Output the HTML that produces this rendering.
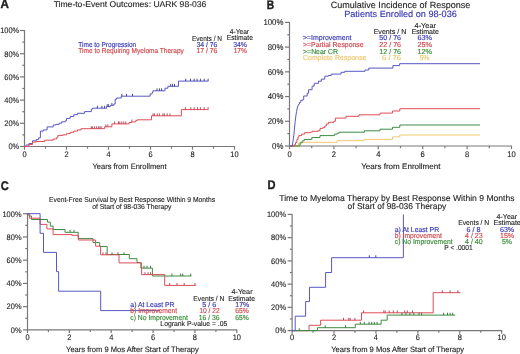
<!DOCTYPE html>
<html><head><meta charset="utf-8"><style>
html,body{margin:0;padding:0;background:#fff;}
body{width:520px;height:354px;overflow:hidden;}
svg{display:block;font-family:"Liberation Sans", sans-serif;text-rendering:geometricPrecision;}
</style></head><body>
<svg width="520" height="354" viewBox="0 0 520 354">
<defs><filter id="bl" x="0" y="0" width="100%" height="100%"><feGaussianBlur stdDeviation="0.4"/></filter></defs>
<rect width="520" height="354" fill="#fff"/>
<g filter="url(#bl)">
<rect width="520" height="354" fill="#fff"/>
<text x="0.50" y="8.30" font-size="12.5" fill="#1e1e1e" stroke="#1e1e1e" stroke-width="0.4" font-weight="bold" textLength="8.40" lengthAdjust="spacingAndGlyphs">A</text>
<text x="53.65" y="7.00" font-size="8.4" fill="#1e1e1e" stroke="#1e1e1e" stroke-width="0.12" font-weight="normal" textLength="152.70" lengthAdjust="spacingAndGlyphs">Time-to-Event Outcomes: UARK 98-036</text>
<line x1="24.50" y1="30.00" x2="24.50" y2="147.00" stroke="#787878" stroke-width="1.2"/>
<line x1="24.00" y1="146.50" x2="235.00" y2="146.50" stroke="#787878" stroke-width="1.2"/>
<line x1="20.00" y1="146.50" x2="24.50" y2="146.50" stroke="#787878" stroke-width="1.2"/>
<text x="8.45" y="149.30" font-size="8.0" fill="#1e1e1e" stroke="#1e1e1e" stroke-width="0.12" textLength="10.75" lengthAdjust="spacingAndGlyphs">0%</text>
<line x1="22.30" y1="134.90" x2="24.50" y2="134.90" stroke="#787878" stroke-width="1.2"/>
<line x1="20.00" y1="123.30" x2="24.50" y2="123.30" stroke="#787878" stroke-width="1.2"/>
<text x="4.31" y="126.10" font-size="8.0" fill="#1e1e1e" stroke="#1e1e1e" stroke-width="0.12" textLength="14.89" lengthAdjust="spacingAndGlyphs">20%</text>
<line x1="22.30" y1="111.70" x2="24.50" y2="111.70" stroke="#787878" stroke-width="1.2"/>
<line x1="20.00" y1="100.10" x2="24.50" y2="100.10" stroke="#787878" stroke-width="1.2"/>
<text x="4.31" y="102.90" font-size="8.0" fill="#1e1e1e" stroke="#1e1e1e" stroke-width="0.12" textLength="14.89" lengthAdjust="spacingAndGlyphs">40%</text>
<line x1="22.30" y1="88.50" x2="24.50" y2="88.50" stroke="#787878" stroke-width="1.2"/>
<line x1="20.00" y1="76.90" x2="24.50" y2="76.90" stroke="#787878" stroke-width="1.2"/>
<text x="4.31" y="79.70" font-size="8.0" fill="#1e1e1e" stroke="#1e1e1e" stroke-width="0.12" textLength="14.89" lengthAdjust="spacingAndGlyphs">60%</text>
<line x1="22.30" y1="65.30" x2="24.50" y2="65.30" stroke="#787878" stroke-width="1.2"/>
<line x1="20.00" y1="53.70" x2="24.50" y2="53.70" stroke="#787878" stroke-width="1.2"/>
<text x="4.31" y="56.50" font-size="8.0" fill="#1e1e1e" stroke="#1e1e1e" stroke-width="0.12" textLength="14.89" lengthAdjust="spacingAndGlyphs">80%</text>
<line x1="22.30" y1="42.10" x2="24.50" y2="42.10" stroke="#787878" stroke-width="1.2"/>
<line x1="20.00" y1="30.50" x2="24.50" y2="30.50" stroke="#787878" stroke-width="1.2"/>
<text x="0.17" y="33.30" font-size="8.0" fill="#1e1e1e" stroke="#1e1e1e" stroke-width="0.12" textLength="19.03" lengthAdjust="spacingAndGlyphs">100%</text>
<line x1="24.50" y1="146.50" x2="24.50" y2="149.70" stroke="#787878" stroke-width="1.2"/>
<text x="22.43" y="156.70" font-size="8.0" fill="#1e1e1e" stroke="#1e1e1e" stroke-width="0.12" font-weight="normal" textLength="4.14" lengthAdjust="spacingAndGlyphs">0</text>
<line x1="45.50" y1="146.50" x2="45.50" y2="148.70" stroke="#787878" stroke-width="1.2"/>
<line x1="66.50" y1="146.50" x2="66.50" y2="149.70" stroke="#787878" stroke-width="1.2"/>
<text x="64.43" y="156.70" font-size="8.0" fill="#1e1e1e" stroke="#1e1e1e" stroke-width="0.12" font-weight="normal" textLength="4.14" lengthAdjust="spacingAndGlyphs">2</text>
<line x1="87.50" y1="146.50" x2="87.50" y2="148.70" stroke="#787878" stroke-width="1.2"/>
<line x1="108.50" y1="146.50" x2="108.50" y2="149.70" stroke="#787878" stroke-width="1.2"/>
<text x="106.43" y="156.70" font-size="8.0" fill="#1e1e1e" stroke="#1e1e1e" stroke-width="0.12" font-weight="normal" textLength="4.14" lengthAdjust="spacingAndGlyphs">4</text>
<line x1="129.50" y1="146.50" x2="129.50" y2="148.70" stroke="#787878" stroke-width="1.2"/>
<line x1="150.50" y1="146.50" x2="150.50" y2="149.70" stroke="#787878" stroke-width="1.2"/>
<text x="148.43" y="156.70" font-size="8.0" fill="#1e1e1e" stroke="#1e1e1e" stroke-width="0.12" font-weight="normal" textLength="4.14" lengthAdjust="spacingAndGlyphs">6</text>
<line x1="171.50" y1="146.50" x2="171.50" y2="148.70" stroke="#787878" stroke-width="1.2"/>
<line x1="192.50" y1="146.50" x2="192.50" y2="149.70" stroke="#787878" stroke-width="1.2"/>
<text x="190.43" y="156.70" font-size="8.0" fill="#1e1e1e" stroke="#1e1e1e" stroke-width="0.12" font-weight="normal" textLength="4.14" lengthAdjust="spacingAndGlyphs">8</text>
<line x1="213.50" y1="146.50" x2="213.50" y2="148.70" stroke="#787878" stroke-width="1.2"/>
<line x1="234.50" y1="146.50" x2="234.50" y2="149.70" stroke="#787878" stroke-width="1.2"/>
<text x="230.36" y="156.70" font-size="8.0" fill="#1e1e1e" stroke="#1e1e1e" stroke-width="0.12" font-weight="normal" textLength="8.28" lengthAdjust="spacingAndGlyphs">10</text>
<text x="92.45" y="169.20" font-size="7.8" fill="#1e1e1e" stroke="#1e1e1e" stroke-width="0.12" font-weight="normal" textLength="74.20" lengthAdjust="spacingAndGlyphs">Years from Enrollment</text>
<text x="78.35" y="47.30" font-size="7.2" fill="#3636b4" stroke="#3636b4" stroke-width="0.15" font-weight="normal" textLength="57.80" lengthAdjust="spacingAndGlyphs">Time to Progression</text>
<text x="78.35" y="53.30" font-size="7.2" fill="#d24448" stroke="#d24448" stroke-width="0.15" font-weight="normal" textLength="105.50" lengthAdjust="spacingAndGlyphs">Time to Requiring Myeloma Therapy</text>
<text x="192.05" y="40.50" font-size="7.2" fill="#1e1e1e" stroke="#1e1e1e" stroke-width="0.12" font-weight="normal" textLength="29.90" lengthAdjust="spacingAndGlyphs">Events / N</text>
<text x="196.45" y="47.10" font-size="7.2" fill="#3636b4" stroke="#3636b4" stroke-width="0.15" font-weight="normal" textLength="20.90" lengthAdjust="spacingAndGlyphs">34 / 76</text>
<text x="196.45" y="53.20" font-size="7.2" fill="#d24448" stroke="#d24448" stroke-width="0.15" font-weight="normal" textLength="20.90" lengthAdjust="spacingAndGlyphs">17 / 76</text>
<text x="229.75" y="34.10" font-size="7.2" fill="#1e1e1e" stroke="#1e1e1e" stroke-width="0.12" font-weight="normal" textLength="19.30" lengthAdjust="spacingAndGlyphs">4-Year</text>
<text x="226.75" y="40.30" font-size="7.2" fill="#1e1e1e" stroke="#1e1e1e" stroke-width="0.12" font-weight="normal" textLength="26.20" lengthAdjust="spacingAndGlyphs">Estimate</text>
<text x="233.25" y="47.10" font-size="7.2" fill="#3636b4" stroke="#3636b4" stroke-width="0.15" font-weight="normal" textLength="13.70" lengthAdjust="spacingAndGlyphs">34%</text>
<text x="233.65" y="53.20" font-size="7.2" fill="#d24448" stroke="#d24448" stroke-width="0.15" font-weight="normal" textLength="13.30" lengthAdjust="spacingAndGlyphs">17%</text>
<path d="M24.50 146.50H26.00V145.00H28.90V143.60H32.50V140.80H36.20V139.60H38.60V137.80H40.40V131.10H43.40V129.90H47.10V126.90H53.20V125.00H55.60V124.40H59.20V123.20H61.70V121.80H65.30V120.80H66.50V118.40H70.20V116.50H73.80V114.70H77.50V113.30H84.60V111.60H91.30V109.00H92.60V108.20H106.60V106.60H110.50V105.30H113.90V104.00H115.20V99.30H116.50V98.00H121.20V96.20H150.10V93.90H152.20V92.50H152.90V90.80H165.00V88.20H167.90V86.30H178.50V81.10H208.40" fill="none" stroke="#5858c4" stroke-width="1.0"/>
<path d="M24.50 146.50H28.90V144.50H32.50V142.10H36.20V141.50H44.70V140.20H53.20V139.00H56.80V137.20H58.00V135.40H62.90V134.80H66.50V133.60H70.20V132.30H73.80V131.10H77.50V129.90H81.10V128.70H104.60V126.80H111.90V123.90H129.10V122.50H131.80V121.90H135.80V120.50H137.10V119.80H151.50V115.80H181.40V109.60H208.40" fill="none" stroke="#e04c56" stroke-width="1.0"/>
<path d="M185.70 81.10v-2.40M190.50 81.10v-2.40M194.10 81.10v-2.40M197.00 81.10v-2.40M200.40 81.10v-2.40M204.20 81.10v-2.40M208.10 81.10v-2.40" fill="none" stroke="#34348c" stroke-width="0.9"/>
<path d="M170.70 86.30v-2.40M172.50 86.30v-2.40M174.50 86.30v-2.40" fill="none" stroke="#34348c" stroke-width="0.9"/>
<path d="M157.00 90.80v-2.40M159.50 90.80v-2.40M161.50 90.80v-2.40" fill="none" stroke="#34348c" stroke-width="0.9"/>
<path d="M97.30 108.20v-2.40M101.90 108.20v-2.40M104.60 108.20v-2.40" fill="none" stroke="#34348c" stroke-width="0.9"/>
<path d="M107.20 106.60v-2.40M108.60 106.60v-2.40" fill="none" stroke="#34348c" stroke-width="0.9"/>
<path d="M111.90 105.30v-2.40" fill="none" stroke="#34348c" stroke-width="0.9"/>
<path d="M121.80 96.20v-2.40M126.50 96.20v-2.40M132.50 96.20v-2.40" fill="none" stroke="#34348c" stroke-width="0.9"/>
<path d="M185.40 109.60v-2.40M190.80 109.60v-2.40M194.20 109.60v-2.40M197.50 109.60v-2.40M200.40 109.60v-2.40M204.20 109.60v-2.40M208.10 109.60v-2.40" fill="none" stroke="#a84050" stroke-width="0.9"/>
<path d="M153.00 115.80v-2.40M154.40 115.80v-2.40M157.20 115.80v-2.40M159.30 115.80v-2.40M162.90 115.80v-2.40M164.30 115.80v-2.40M167.20 115.80v-2.40M170.00 115.80v-2.40" fill="none" stroke="#a84050" stroke-width="0.9"/>
<path d="M114.50 123.90v-2.40M118.50 123.90v-2.40M119.80 123.90v-2.40M121.80 123.90v-2.40M123.80 123.90v-2.40M125.80 123.90v-2.40" fill="none" stroke="#a84050" stroke-width="0.9"/>
<path d="M105.90 126.80v-2.40M107.90 126.80v-2.40" fill="none" stroke="#a84050" stroke-width="0.9"/>
<path d="M91.30 128.70v-2.40M92.60 128.70v-2.40M94.60 128.70v-2.40M96.60 128.70v-2.40M98.60 128.70v-2.40M99.90 128.70v-2.40M101.20 128.70v-2.40" fill="none" stroke="#a84050" stroke-width="0.9"/>
<path d="M131.80 121.90v-2.40" fill="none" stroke="#a84050" stroke-width="0.9"/>
<text x="266.80" y="8.60" font-size="12.5" fill="#1e1e1e" stroke="#1e1e1e" stroke-width="0.4" font-weight="bold" textLength="7.40" lengthAdjust="spacingAndGlyphs">B</text>
<text x="330.65" y="8.00" font-size="9.1" fill="#1e1e1e" stroke="#1e1e1e" stroke-width="0.12" font-weight="normal" textLength="139.70" lengthAdjust="spacingAndGlyphs">Cumulative Incidence of Response</text>
<text x="344.15" y="16.50" font-size="9.1" fill="#3636b4" stroke="#3636b4" stroke-width="0.15" font-weight="normal" textLength="112.70" lengthAdjust="spacingAndGlyphs">Patients Enrolled on 98-036</text>
<line x1="289.50" y1="21.90" x2="289.50" y2="146.50" stroke="#787878" stroke-width="1.2"/>
<line x1="289.00" y1="146.00" x2="512.00" y2="146.00" stroke="#787878" stroke-width="1.2"/>
<line x1="285.00" y1="146.00" x2="289.50" y2="146.00" stroke="#787878" stroke-width="1.2"/>
<text x="272.11" y="148.80" font-size="8.4" fill="#1e1e1e" stroke="#1e1e1e" stroke-width="0.12" textLength="11.29" lengthAdjust="spacingAndGlyphs">0%</text>
<line x1="287.30" y1="133.64" x2="289.50" y2="133.64" stroke="#787878" stroke-width="1.2"/>
<line x1="285.00" y1="121.28" x2="289.50" y2="121.28" stroke="#787878" stroke-width="1.2"/>
<text x="267.76" y="124.08" font-size="8.4" fill="#1e1e1e" stroke="#1e1e1e" stroke-width="0.12" textLength="15.64" lengthAdjust="spacingAndGlyphs">20%</text>
<line x1="287.30" y1="108.92" x2="289.50" y2="108.92" stroke="#787878" stroke-width="1.2"/>
<line x1="285.00" y1="96.56" x2="289.50" y2="96.56" stroke="#787878" stroke-width="1.2"/>
<text x="267.76" y="99.36" font-size="8.4" fill="#1e1e1e" stroke="#1e1e1e" stroke-width="0.12" textLength="15.64" lengthAdjust="spacingAndGlyphs">40%</text>
<line x1="287.30" y1="84.20" x2="289.50" y2="84.20" stroke="#787878" stroke-width="1.2"/>
<line x1="285.00" y1="71.84" x2="289.50" y2="71.84" stroke="#787878" stroke-width="1.2"/>
<text x="267.76" y="74.64" font-size="8.4" fill="#1e1e1e" stroke="#1e1e1e" stroke-width="0.12" textLength="15.64" lengthAdjust="spacingAndGlyphs">60%</text>
<line x1="287.30" y1="59.48" x2="289.50" y2="59.48" stroke="#787878" stroke-width="1.2"/>
<line x1="285.00" y1="47.12" x2="289.50" y2="47.12" stroke="#787878" stroke-width="1.2"/>
<text x="267.76" y="49.92" font-size="8.4" fill="#1e1e1e" stroke="#1e1e1e" stroke-width="0.12" textLength="15.64" lengthAdjust="spacingAndGlyphs">80%</text>
<line x1="287.30" y1="34.76" x2="289.50" y2="34.76" stroke="#787878" stroke-width="1.2"/>
<line x1="285.00" y1="22.40" x2="289.50" y2="22.40" stroke="#787878" stroke-width="1.2"/>
<text x="263.42" y="25.20" font-size="8.4" fill="#1e1e1e" stroke="#1e1e1e" stroke-width="0.12" textLength="19.98" lengthAdjust="spacingAndGlyphs">100%</text>
<line x1="289.50" y1="146.00" x2="289.50" y2="149.20" stroke="#787878" stroke-width="1.2"/>
<text x="287.38" y="156.70" font-size="8.2" fill="#1e1e1e" stroke="#1e1e1e" stroke-width="0.12" font-weight="normal" textLength="4.24" lengthAdjust="spacingAndGlyphs">0</text>
<line x1="311.70" y1="146.00" x2="311.70" y2="148.20" stroke="#787878" stroke-width="1.2"/>
<line x1="333.90" y1="146.00" x2="333.90" y2="149.20" stroke="#787878" stroke-width="1.2"/>
<text x="331.78" y="156.70" font-size="8.2" fill="#1e1e1e" stroke="#1e1e1e" stroke-width="0.12" font-weight="normal" textLength="4.24" lengthAdjust="spacingAndGlyphs">2</text>
<line x1="356.10" y1="146.00" x2="356.10" y2="148.20" stroke="#787878" stroke-width="1.2"/>
<line x1="378.30" y1="146.00" x2="378.30" y2="149.20" stroke="#787878" stroke-width="1.2"/>
<text x="376.18" y="156.70" font-size="8.2" fill="#1e1e1e" stroke="#1e1e1e" stroke-width="0.12" font-weight="normal" textLength="4.24" lengthAdjust="spacingAndGlyphs">4</text>
<line x1="400.50" y1="146.00" x2="400.50" y2="148.20" stroke="#787878" stroke-width="1.2"/>
<line x1="422.70" y1="146.00" x2="422.70" y2="149.20" stroke="#787878" stroke-width="1.2"/>
<text x="420.58" y="156.70" font-size="8.2" fill="#1e1e1e" stroke="#1e1e1e" stroke-width="0.12" font-weight="normal" textLength="4.24" lengthAdjust="spacingAndGlyphs">6</text>
<line x1="444.90" y1="146.00" x2="444.90" y2="148.20" stroke="#787878" stroke-width="1.2"/>
<line x1="467.10" y1="146.00" x2="467.10" y2="149.20" stroke="#787878" stroke-width="1.2"/>
<text x="464.98" y="156.70" font-size="8.2" fill="#1e1e1e" stroke="#1e1e1e" stroke-width="0.12" font-weight="normal" textLength="4.24" lengthAdjust="spacingAndGlyphs">8</text>
<line x1="489.30" y1="146.00" x2="489.30" y2="148.20" stroke="#787878" stroke-width="1.2"/>
<line x1="511.50" y1="146.00" x2="511.50" y2="149.20" stroke="#787878" stroke-width="1.2"/>
<text x="507.26" y="156.70" font-size="8.2" fill="#1e1e1e" stroke="#1e1e1e" stroke-width="0.12" font-weight="normal" textLength="8.48" lengthAdjust="spacingAndGlyphs">10</text>
<text x="361.15" y="169.10" font-size="7.9" fill="#1e1e1e" stroke="#1e1e1e" stroke-width="0.12" font-weight="normal" textLength="79.40" lengthAdjust="spacingAndGlyphs">Years from Enrollment</text>
<text x="303.05" y="40.20" font-size="7.2" fill="#3636b4" stroke="#3636b4" stroke-width="0.15" font-weight="normal" textLength="48.40" lengthAdjust="spacingAndGlyphs">&gt;=Improvement</text>
<text x="303.05" y="46.90" font-size="7.2" fill="#d24448" stroke="#d24448" stroke-width="0.15" font-weight="normal" textLength="60.60" lengthAdjust="spacingAndGlyphs">&gt;=Partial Response</text>
<text x="303.05" y="53.60" font-size="7.2" fill="#348a34" stroke="#348a34" stroke-width="0.15" font-weight="normal" textLength="35.00" lengthAdjust="spacingAndGlyphs">&gt;=Near CR</text>
<text x="303.05" y="60.30" font-size="7.2" fill="#eac870" stroke="#eac870" stroke-width="0.15" font-weight="normal" textLength="63.30" lengthAdjust="spacingAndGlyphs">Complete Response</text>
<text x="414.55" y="27.60" font-size="7.2" fill="#1e1e1e" stroke="#1e1e1e" stroke-width="0.12" font-weight="normal" textLength="21.40" lengthAdjust="spacingAndGlyphs">4-Year</text>
<text x="373.65" y="33.50" font-size="7.2" fill="#1e1e1e" stroke="#1e1e1e" stroke-width="0.12" font-weight="normal" textLength="32.70" lengthAdjust="spacingAndGlyphs">Events / N</text>
<text x="411.65" y="33.50" font-size="7.2" fill="#1e1e1e" stroke="#1e1e1e" stroke-width="0.12" font-weight="normal" textLength="27.20" lengthAdjust="spacingAndGlyphs">Estimate</text>
<text x="379.35" y="40.20" font-size="7.2" fill="#3636b4" stroke="#3636b4" stroke-width="0.15" font-weight="normal" textLength="21.70" lengthAdjust="spacingAndGlyphs">50 / 76</text>
<text x="379.35" y="46.90" font-size="7.2" fill="#d24448" stroke="#d24448" stroke-width="0.15" font-weight="normal" textLength="21.70" lengthAdjust="spacingAndGlyphs">22 / 76</text>
<text x="379.35" y="53.60" font-size="7.2" fill="#348a34" stroke="#348a34" stroke-width="0.15" font-weight="normal" textLength="21.70" lengthAdjust="spacingAndGlyphs">12 / 76</text>
<text x="382.05" y="60.30" font-size="7.2" fill="#eac870" stroke="#eac870" stroke-width="0.15" font-weight="normal" textLength="19.00" lengthAdjust="spacingAndGlyphs">6 / 76</text>
<text x="417.45" y="40.20" font-size="7.2" fill="#3636b4" stroke="#3636b4" stroke-width="0.15" font-weight="normal" textLength="14.60" lengthAdjust="spacingAndGlyphs">63%</text>
<text x="417.45" y="46.90" font-size="7.2" fill="#d24448" stroke="#d24448" stroke-width="0.15" font-weight="normal" textLength="14.60" lengthAdjust="spacingAndGlyphs">25%</text>
<text x="417.45" y="53.60" font-size="7.2" fill="#348a34" stroke="#348a34" stroke-width="0.15" font-weight="normal" textLength="14.60" lengthAdjust="spacingAndGlyphs">12%</text>
<text x="419.45" y="60.30" font-size="7.2" fill="#eac870" stroke="#eac870" stroke-width="0.15" font-weight="normal" textLength="10.10" lengthAdjust="spacingAndGlyphs">5%</text>
<path d="M289.50 146.00H297.90V146.00H298.50V143.30H299.80V142.30H337.30V140.70H364.50V139.40H392.50V136.90H399.80V135.00H480.00" fill="none" stroke="#f0ca6a" stroke-width="1.0"/>
<path d="M289.50 146.00H299.50V146.00H299.80V144.50H300.30V142.80H302.20V140.90H304.10V139.40H311.80V137.50H320.00V135.60H334.40V134.10H337.30V133.20H339.20V132.20H364.50V130.80H380.00V129.20H392.50V127.30H399.80V125.00H480.00" fill="none" stroke="#3c8c40" stroke-width="1.0"/>
<path d="M289.50 146.00H294.00V146.00H294.50V144.50H295.50V142.50H296.90V139.40H298.00V137.00H298.80V135.60H301.70V134.10H304.60V132.70H310.40V132.20H312.30V131.30H318.10V130.80H320.00V128.40H322.90V127.40H324.80V126.00H326.30V124.00H328.40V122.30H334.00V121.20H335.40V118.10H346.00V116.30H359.00V114.80H380.00V113.10H392.50V111.00H399.80V108.70H480.00" fill="none" stroke="#e04c56" stroke-width="1.0"/>
<path d="M289.5 146H292.3L293 141L293.8 135.3L294.5 128L295.2 121.2L296 115L296.6 111.3L297.5 107L298.7 104.2H299.4V102.4H300.8V100.3H303V99.5H303.7V96H307.2V93.2H308.6V89.7H312.1V86.1H314.2V83.3H318.5V81.2H321.3V79.1H324.8V76.2H328.4V75.5H331.2V74.1H341V72.3H344.8V71.3H365V70H368.8V68.1H392.9V65.6H399.6V63.7H480" fill="none" stroke="#5858c4" stroke-width="1.0"/>
<text x="0.70" y="189.90" font-size="12.5" fill="#1e1e1e" stroke="#1e1e1e" stroke-width="0.4" font-weight="bold" textLength="8.00" lengthAdjust="spacingAndGlyphs">C</text>
<text x="49.05" y="202.30" font-size="7.2" fill="#1e1e1e" stroke="#1e1e1e" stroke-width="0.12" font-weight="normal" textLength="166.00" lengthAdjust="spacingAndGlyphs">Event-Free Survival by Best Response Within 9 Months</text>
<text x="92.25" y="208.80" font-size="7.2" fill="#1e1e1e" stroke="#1e1e1e" stroke-width="0.12" font-weight="normal" textLength="79.20" lengthAdjust="spacingAndGlyphs">of Start of 98-036 Therapy</text>
<line x1="27.50" y1="213.20" x2="27.50" y2="330.40" stroke="#787878" stroke-width="1.2"/>
<line x1="27.00" y1="329.90" x2="237.30" y2="329.90" stroke="#787878" stroke-width="1.2"/>
<line x1="23.00" y1="329.90" x2="27.50" y2="329.90" stroke="#787878" stroke-width="1.2"/>
<text x="10.75" y="332.70" font-size="8.0" fill="#1e1e1e" stroke="#1e1e1e" stroke-width="0.12" textLength="10.75" lengthAdjust="spacingAndGlyphs">0%</text>
<line x1="25.30" y1="318.28" x2="27.50" y2="318.28" stroke="#787878" stroke-width="1.2"/>
<line x1="23.00" y1="306.66" x2="27.50" y2="306.66" stroke="#787878" stroke-width="1.2"/>
<text x="6.61" y="309.46" font-size="8.0" fill="#1e1e1e" stroke="#1e1e1e" stroke-width="0.12" textLength="14.89" lengthAdjust="spacingAndGlyphs">20%</text>
<line x1="25.30" y1="295.04" x2="27.50" y2="295.04" stroke="#787878" stroke-width="1.2"/>
<line x1="23.00" y1="283.42" x2="27.50" y2="283.42" stroke="#787878" stroke-width="1.2"/>
<text x="6.61" y="286.22" font-size="8.0" fill="#1e1e1e" stroke="#1e1e1e" stroke-width="0.12" textLength="14.89" lengthAdjust="spacingAndGlyphs">40%</text>
<line x1="25.30" y1="271.80" x2="27.50" y2="271.80" stroke="#787878" stroke-width="1.2"/>
<line x1="23.00" y1="260.18" x2="27.50" y2="260.18" stroke="#787878" stroke-width="1.2"/>
<text x="6.61" y="262.98" font-size="8.0" fill="#1e1e1e" stroke="#1e1e1e" stroke-width="0.12" textLength="14.89" lengthAdjust="spacingAndGlyphs">60%</text>
<line x1="25.30" y1="248.56" x2="27.50" y2="248.56" stroke="#787878" stroke-width="1.2"/>
<line x1="23.00" y1="236.94" x2="27.50" y2="236.94" stroke="#787878" stroke-width="1.2"/>
<text x="6.61" y="239.74" font-size="8.0" fill="#1e1e1e" stroke="#1e1e1e" stroke-width="0.12" textLength="14.89" lengthAdjust="spacingAndGlyphs">80%</text>
<line x1="25.30" y1="225.32" x2="27.50" y2="225.32" stroke="#787878" stroke-width="1.2"/>
<line x1="23.00" y1="213.70" x2="27.50" y2="213.70" stroke="#787878" stroke-width="1.2"/>
<text x="2.47" y="216.50" font-size="8.0" fill="#1e1e1e" stroke="#1e1e1e" stroke-width="0.12" textLength="19.03" lengthAdjust="spacingAndGlyphs">100%</text>
<line x1="27.50" y1="329.90" x2="27.50" y2="333.10" stroke="#787878" stroke-width="1.2"/>
<text x="25.43" y="339.90" font-size="8.0" fill="#1e1e1e" stroke="#1e1e1e" stroke-width="0.12" font-weight="normal" textLength="4.14" lengthAdjust="spacingAndGlyphs">0</text>
<line x1="48.43" y1="329.90" x2="48.43" y2="332.10" stroke="#787878" stroke-width="1.2"/>
<line x1="69.36" y1="329.90" x2="69.36" y2="333.10" stroke="#787878" stroke-width="1.2"/>
<text x="67.29" y="339.90" font-size="8.0" fill="#1e1e1e" stroke="#1e1e1e" stroke-width="0.12" font-weight="normal" textLength="4.14" lengthAdjust="spacingAndGlyphs">2</text>
<line x1="90.29" y1="329.90" x2="90.29" y2="332.10" stroke="#787878" stroke-width="1.2"/>
<line x1="111.22" y1="329.90" x2="111.22" y2="333.10" stroke="#787878" stroke-width="1.2"/>
<text x="109.15" y="339.90" font-size="8.0" fill="#1e1e1e" stroke="#1e1e1e" stroke-width="0.12" font-weight="normal" textLength="4.14" lengthAdjust="spacingAndGlyphs">4</text>
<line x1="132.15" y1="329.90" x2="132.15" y2="332.10" stroke="#787878" stroke-width="1.2"/>
<line x1="153.08" y1="329.90" x2="153.08" y2="333.10" stroke="#787878" stroke-width="1.2"/>
<text x="151.01" y="339.90" font-size="8.0" fill="#1e1e1e" stroke="#1e1e1e" stroke-width="0.12" font-weight="normal" textLength="4.14" lengthAdjust="spacingAndGlyphs">6</text>
<line x1="174.01" y1="329.90" x2="174.01" y2="332.10" stroke="#787878" stroke-width="1.2"/>
<line x1="194.94" y1="329.90" x2="194.94" y2="333.10" stroke="#787878" stroke-width="1.2"/>
<text x="192.87" y="339.90" font-size="8.0" fill="#1e1e1e" stroke="#1e1e1e" stroke-width="0.12" font-weight="normal" textLength="4.14" lengthAdjust="spacingAndGlyphs">8</text>
<line x1="215.87" y1="329.90" x2="215.87" y2="332.10" stroke="#787878" stroke-width="1.2"/>
<line x1="236.80" y1="329.90" x2="236.80" y2="333.10" stroke="#787878" stroke-width="1.2"/>
<text x="232.66" y="339.90" font-size="8.0" fill="#1e1e1e" stroke="#1e1e1e" stroke-width="0.12" font-weight="normal" textLength="8.28" lengthAdjust="spacingAndGlyphs">10</text>
<text x="66.05" y="351.70" font-size="7.8" fill="#1e1e1e" stroke="#1e1e1e" stroke-width="0.12" font-weight="normal" textLength="132.80" lengthAdjust="spacingAndGlyphs">Years from 9 Mos After Start of Therapy</text>
<path d="M27.50 213.70H29.00V216.00H31.50V219.50H47.50V222.10H50.30V226.10H53.10V229.50H65.00V232.30H78.20V238.60H93.00V242.60H99.70V246.50H107.20V254.50H129.30V258.70H137.00V262.50H140.90V268.10H152.40V276.00H191.40" fill="none" stroke="#3c8c40" stroke-width="1.0"/>
<path d="M27.50 213.70H29.40V218.20H40.10V224.40H46.90V228.90H53.10V234.60H71.80V235.30H78.40V240.00H95.60V246.20H100.60V254.80H119.00V262.90H141.60V274.60H164.70V285.40H195.70" fill="none" stroke="#e04c56" stroke-width="1.0"/>
<path d="M27.50 213.70H40.10V233.30H43.50V252.40H56.50V271.60H58.60V291.20H100.70V310.60H160.00" fill="none" stroke="#5858c4" stroke-width="1.0"/>
<path d="M171.90 276.00v-2.40M180.60 276.00v-2.40M182.70 276.00v-2.40M190.70 276.00v-2.40" fill="none" stroke="#2e6e32" stroke-width="0.9"/>
<path d="M169.70 285.40v-2.40M177.00 285.40v-2.40M184.20 285.40v-2.40M195.00 285.40v-2.40" fill="none" stroke="#a84050" stroke-width="0.9"/>
<path d="M145.00 274.60v-2.40M148.00 274.60v-2.40M150.50 274.60v-2.40" fill="none" stroke="#a84050" stroke-width="0.9"/>
<path d="M144.00 268.10v-2.40M147.00 268.10v-2.40M150.50 268.10v-2.40" fill="none" stroke="#2e6e32" stroke-width="0.9"/>
<path d="M112.00 254.80v-2.40M118.00 254.80v-2.40M124.00 254.80v-2.40" fill="none" stroke="#2e6e32" stroke-width="0.9"/>
<path d="M103.00 254.80v-2.40M106.00 254.80v-2.40" fill="none" stroke="#a84050" stroke-width="0.9"/>
<path d="M70.00 232.30v-2.40M74.00 232.30v-2.40" fill="none" stroke="#2e6e32" stroke-width="0.9"/>
<text x="130.35" y="306.90" font-size="7.2" fill="#3636b4" stroke="#3636b4" stroke-width="0.15" font-weight="normal" textLength="44.10" lengthAdjust="spacingAndGlyphs">a) At Least PR</text>
<text x="130.35" y="313.10" font-size="7.2" fill="#d24448" stroke="#d24448" stroke-width="0.15" font-weight="normal" textLength="46.80" lengthAdjust="spacingAndGlyphs">b) Improvement</text>
<text x="130.35" y="319.60" font-size="7.2" fill="#348a34" stroke="#348a34" stroke-width="0.15" font-weight="normal" textLength="57.60" lengthAdjust="spacingAndGlyphs">c) No Improvement</text>
<text x="160.35" y="325.90" font-size="7.2" fill="#1e1e1e" stroke="#1e1e1e" stroke-width="0.12" font-weight="normal" textLength="67.00" lengthAdjust="spacingAndGlyphs">Logrank P-value = .05</text>
<text x="231.55" y="294.00" font-size="7.2" fill="#1e1e1e" stroke="#1e1e1e" stroke-width="0.12" font-weight="normal" textLength="21.00" lengthAdjust="spacingAndGlyphs">4-Year</text>
<text x="193.35" y="300.50" font-size="7.2" fill="#1e1e1e" stroke="#1e1e1e" stroke-width="0.12" font-weight="normal" textLength="31.00" lengthAdjust="spacingAndGlyphs">Events / N</text>
<text x="228.15" y="300.60" font-size="7.2" fill="#1e1e1e" stroke="#1e1e1e" stroke-width="0.12" font-weight="normal" textLength="26.90" lengthAdjust="spacingAndGlyphs">Estimate</text>
<text x="202.15" y="306.90" font-size="7.2" fill="#3636b4" stroke="#3636b4" stroke-width="0.15" font-weight="normal" textLength="14.20" lengthAdjust="spacingAndGlyphs">5 / 6</text>
<text x="199.45" y="313.10" font-size="7.2" fill="#d24448" stroke="#d24448" stroke-width="0.15" font-weight="normal" textLength="20.20" lengthAdjust="spacingAndGlyphs">10 / 22</text>
<text x="198.75" y="319.60" font-size="7.2" fill="#348a34" stroke="#348a34" stroke-width="0.15" font-weight="normal" textLength="20.90" lengthAdjust="spacingAndGlyphs">16 / 36</text>
<text x="235.35" y="306.90" font-size="7.2" fill="#3636b4" stroke="#3636b4" stroke-width="0.15" font-weight="normal" textLength="13.80" lengthAdjust="spacingAndGlyphs">17%</text>
<text x="235.15" y="313.10" font-size="7.2" fill="#d24448" stroke="#d24448" stroke-width="0.15" font-weight="normal" textLength="13.50" lengthAdjust="spacingAndGlyphs">65%</text>
<text x="235.15" y="319.60" font-size="7.2" fill="#348a34" stroke="#348a34" stroke-width="0.15" font-weight="normal" textLength="13.50" lengthAdjust="spacingAndGlyphs">65%</text>
<text x="267.60" y="188.90" font-size="12.5" fill="#1e1e1e" stroke="#1e1e1e" stroke-width="0.4" font-weight="bold" textLength="8.00" lengthAdjust="spacingAndGlyphs">D</text>
<text x="279.25" y="201.10" font-size="8.5" fill="#1e1e1e" stroke="#1e1e1e" stroke-width="0.12" font-weight="normal" textLength="235.30" lengthAdjust="spacingAndGlyphs">Time to Myeloma Therapy by Best Response Within 9 Months</text>
<text x="347.55" y="208.80" font-size="8.5" fill="#1e1e1e" stroke="#1e1e1e" stroke-width="0.12" font-weight="normal" textLength="98.80" lengthAdjust="spacingAndGlyphs">of Start of 98-036 Therapy</text>
<line x1="292.10" y1="213.90" x2="292.10" y2="331.10" stroke="#787878" stroke-width="1.2"/>
<line x1="291.60" y1="330.60" x2="502.20" y2="330.60" stroke="#787878" stroke-width="1.2"/>
<line x1="287.60" y1="330.60" x2="292.10" y2="330.60" stroke="#787878" stroke-width="1.2"/>
<text x="275.25" y="333.40" font-size="8.0" fill="#1e1e1e" stroke="#1e1e1e" stroke-width="0.12" textLength="10.75" lengthAdjust="spacingAndGlyphs">0%</text>
<line x1="289.90" y1="318.98" x2="292.10" y2="318.98" stroke="#787878" stroke-width="1.2"/>
<line x1="287.60" y1="307.36" x2="292.10" y2="307.36" stroke="#787878" stroke-width="1.2"/>
<text x="271.11" y="310.16" font-size="8.0" fill="#1e1e1e" stroke="#1e1e1e" stroke-width="0.12" textLength="14.89" lengthAdjust="spacingAndGlyphs">20%</text>
<line x1="289.90" y1="295.74" x2="292.10" y2="295.74" stroke="#787878" stroke-width="1.2"/>
<line x1="287.60" y1="284.12" x2="292.10" y2="284.12" stroke="#787878" stroke-width="1.2"/>
<text x="271.11" y="286.92" font-size="8.0" fill="#1e1e1e" stroke="#1e1e1e" stroke-width="0.12" textLength="14.89" lengthAdjust="spacingAndGlyphs">40%</text>
<line x1="289.90" y1="272.50" x2="292.10" y2="272.50" stroke="#787878" stroke-width="1.2"/>
<line x1="287.60" y1="260.88" x2="292.10" y2="260.88" stroke="#787878" stroke-width="1.2"/>
<text x="271.11" y="263.68" font-size="8.0" fill="#1e1e1e" stroke="#1e1e1e" stroke-width="0.12" textLength="14.89" lengthAdjust="spacingAndGlyphs">60%</text>
<line x1="289.90" y1="249.26" x2="292.10" y2="249.26" stroke="#787878" stroke-width="1.2"/>
<line x1="287.60" y1="237.64" x2="292.10" y2="237.64" stroke="#787878" stroke-width="1.2"/>
<text x="271.11" y="240.44" font-size="8.0" fill="#1e1e1e" stroke="#1e1e1e" stroke-width="0.12" textLength="14.89" lengthAdjust="spacingAndGlyphs">80%</text>
<line x1="289.90" y1="226.02" x2="292.10" y2="226.02" stroke="#787878" stroke-width="1.2"/>
<line x1="287.60" y1="214.40" x2="292.10" y2="214.40" stroke="#787878" stroke-width="1.2"/>
<text x="266.97" y="217.20" font-size="8.0" fill="#1e1e1e" stroke="#1e1e1e" stroke-width="0.12" textLength="19.03" lengthAdjust="spacingAndGlyphs">100%</text>
<line x1="292.10" y1="330.60" x2="292.10" y2="333.80" stroke="#787878" stroke-width="1.2"/>
<text x="290.03" y="340.00" font-size="8.0" fill="#1e1e1e" stroke="#1e1e1e" stroke-width="0.12" font-weight="normal" textLength="4.14" lengthAdjust="spacingAndGlyphs">0</text>
<line x1="313.06" y1="330.60" x2="313.06" y2="332.80" stroke="#787878" stroke-width="1.2"/>
<line x1="334.02" y1="330.60" x2="334.02" y2="333.80" stroke="#787878" stroke-width="1.2"/>
<text x="331.95" y="340.00" font-size="8.0" fill="#1e1e1e" stroke="#1e1e1e" stroke-width="0.12" font-weight="normal" textLength="4.14" lengthAdjust="spacingAndGlyphs">2</text>
<line x1="354.98" y1="330.60" x2="354.98" y2="332.80" stroke="#787878" stroke-width="1.2"/>
<line x1="375.94" y1="330.60" x2="375.94" y2="333.80" stroke="#787878" stroke-width="1.2"/>
<text x="373.87" y="340.00" font-size="8.0" fill="#1e1e1e" stroke="#1e1e1e" stroke-width="0.12" font-weight="normal" textLength="4.14" lengthAdjust="spacingAndGlyphs">4</text>
<line x1="396.90" y1="330.60" x2="396.90" y2="332.80" stroke="#787878" stroke-width="1.2"/>
<line x1="417.86" y1="330.60" x2="417.86" y2="333.80" stroke="#787878" stroke-width="1.2"/>
<text x="415.79" y="340.00" font-size="8.0" fill="#1e1e1e" stroke="#1e1e1e" stroke-width="0.12" font-weight="normal" textLength="4.14" lengthAdjust="spacingAndGlyphs">6</text>
<line x1="438.82" y1="330.60" x2="438.82" y2="332.80" stroke="#787878" stroke-width="1.2"/>
<line x1="459.78" y1="330.60" x2="459.78" y2="333.80" stroke="#787878" stroke-width="1.2"/>
<text x="457.71" y="340.00" font-size="8.0" fill="#1e1e1e" stroke="#1e1e1e" stroke-width="0.12" font-weight="normal" textLength="4.14" lengthAdjust="spacingAndGlyphs">8</text>
<line x1="480.74" y1="330.60" x2="480.74" y2="332.80" stroke="#787878" stroke-width="1.2"/>
<line x1="501.70" y1="330.60" x2="501.70" y2="333.80" stroke="#787878" stroke-width="1.2"/>
<text x="497.56" y="340.00" font-size="8.0" fill="#1e1e1e" stroke="#1e1e1e" stroke-width="0.12" font-weight="normal" textLength="8.28" lengthAdjust="spacingAndGlyphs">10</text>
<text x="331.15" y="351.80" font-size="7.8" fill="#1e1e1e" stroke="#1e1e1e" stroke-width="0.12" font-weight="normal" textLength="133.00" lengthAdjust="spacingAndGlyphs">Years from 9 Mos After Start of Therapy</text>
<path d="M292.10 330.60H309.00V325.30H320.60V320.20H361.50V312.80H433.20V292.70H460.50" fill="none" stroke="#e04c56" stroke-width="1.0"/>
<path d="M292.10 330.60H317.50V327.70H355.30V324.20H381.10V320.20H387.20V315.10H455.30" fill="none" stroke="#3c8c40" stroke-width="1.0"/>
<path d="M292.10 330.60H295.20V316.20H305.60V301.60H309.50V287.30H325.60V272.50H331.60V257.70H403.40V214.40" fill="none" stroke="#5858c4" stroke-width="1.0"/>
<path d="M369.30 257.70v-2.40M375.80 257.70v-2.40" fill="none" stroke="#34348c" stroke-width="0.9"/>
<path d="M343.50 320.20v-2.40M348.80 320.20v-2.40M350.20 320.20v-2.40M354.90 320.20v-2.40" fill="none" stroke="#a84050" stroke-width="0.9"/>
<path d="M363.60 312.80v-2.40M383.80 312.80v-2.40M385.20 312.80v-2.40M389.20 312.80v-2.40M393.30 312.80v-2.40M397.30 312.80v-2.40M404.70 312.80v-2.40M407.30 312.80v-2.40M412.50 312.80v-2.40" fill="none" stroke="#a84050" stroke-width="0.9"/>
<path d="M442.30 292.70v-2.40M450.10 292.70v-2.40M457.90 292.70v-2.40" fill="none" stroke="#a84050" stroke-width="0.9"/>
<path d="M360.30 324.20v-2.40M364.30 324.20v-2.40M369.00 324.20v-2.40M371.70 324.20v-2.40M374.40 324.20v-2.40M377.10 324.20v-2.40" fill="none" stroke="#2e6e32" stroke-width="0.9"/>
<path d="M325.20 327.70v-2.40M345.50 327.70v-2.40" fill="none" stroke="#2e6e32" stroke-width="0.9"/>
<path d="M299.20 330.60v-2.40" fill="none" stroke="#2e6e32" stroke-width="0.9"/>
<path d="M402.00 315.10v-2.40M406.00 315.10v-2.40M409.90 315.10v-2.40M413.80 315.10v-2.40M419.00 315.10v-2.40M421.60 315.10v-2.40M443.60 315.10v-2.40M447.50 315.10v-2.40M450.10 315.10v-2.40M452.70 315.10v-2.40" fill="none" stroke="#2e6e32" stroke-width="0.9"/>
<text x="394.75" y="231.60" font-size="7.2" fill="#3636b4" stroke="#3636b4" stroke-width="0.15" font-weight="normal" textLength="44.40" lengthAdjust="spacingAndGlyphs">a) At Least PR</text>
<text x="394.75" y="237.80" font-size="7.2" fill="#d24448" stroke="#d24448" stroke-width="0.15" font-weight="normal" textLength="47.10" lengthAdjust="spacingAndGlyphs">b) Improvement</text>
<text x="394.75" y="244.00" font-size="7.2" fill="#348a34" stroke="#348a34" stroke-width="0.15" font-weight="normal" textLength="57.90" lengthAdjust="spacingAndGlyphs">c) No Improvement</text>
<text x="444.25" y="250.30" font-size="7.2" fill="#1e1e1e" stroke="#1e1e1e" stroke-width="0.12" font-weight="normal" textLength="28.40" lengthAdjust="spacingAndGlyphs">P &lt; .0001</text>
<text x="496.55" y="218.70" font-size="7.2" fill="#1e1e1e" stroke="#1e1e1e" stroke-width="0.12" font-weight="normal" textLength="20.60" lengthAdjust="spacingAndGlyphs">4-Year</text>
<text x="458.15" y="225.30" font-size="7.2" fill="#1e1e1e" stroke="#1e1e1e" stroke-width="0.12" font-weight="normal" textLength="31.10" lengthAdjust="spacingAndGlyphs">Events / N</text>
<text x="493.55" y="225.30" font-size="7.2" fill="#1e1e1e" stroke="#1e1e1e" stroke-width="0.12" font-weight="normal" textLength="27.20" lengthAdjust="spacingAndGlyphs">Estimate</text>
<text x="466.55" y="231.60" font-size="7.2" fill="#3636b4" stroke="#3636b4" stroke-width="0.15" font-weight="normal" textLength="14.10" lengthAdjust="spacingAndGlyphs">6 / 8</text>
<text x="465.05" y="237.80" font-size="7.2" fill="#d24448" stroke="#d24448" stroke-width="0.15" font-weight="normal" textLength="17.60" lengthAdjust="spacingAndGlyphs">4 / 23</text>
<text x="465.05" y="244.00" font-size="7.2" fill="#348a34" stroke="#348a34" stroke-width="0.15" font-weight="normal" textLength="17.60" lengthAdjust="spacingAndGlyphs">4 / 40</text>
<text x="499.95" y="231.60" font-size="7.2" fill="#3636b4" stroke="#3636b4" stroke-width="0.15" font-weight="normal" textLength="14.20" lengthAdjust="spacingAndGlyphs">63%</text>
<text x="499.95" y="237.80" font-size="7.2" fill="#d24448" stroke="#d24448" stroke-width="0.15" font-weight="normal" textLength="14.20" lengthAdjust="spacingAndGlyphs">15%</text>
<text x="501.95" y="244.00" font-size="7.2" fill="#348a34" stroke="#348a34" stroke-width="0.15" font-weight="normal" textLength="9.90" lengthAdjust="spacingAndGlyphs">5%</text>
</g>
</svg>
</body></html>
